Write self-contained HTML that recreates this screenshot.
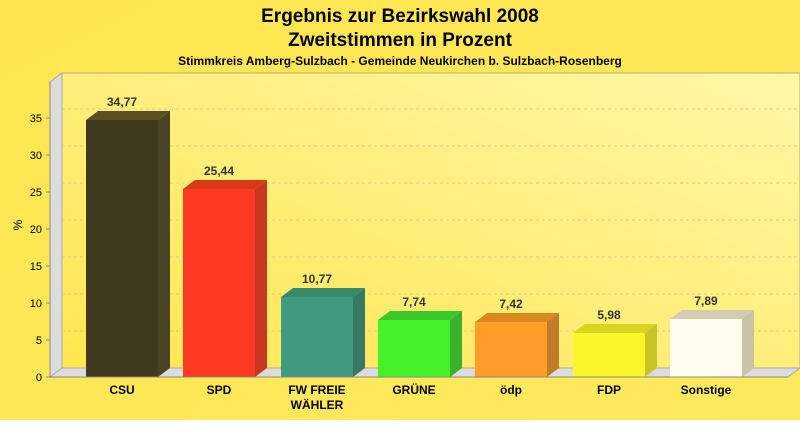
<!DOCTYPE html><html><head><style>body{margin:0}svg{font-family:"Liberation Sans",sans-serif}</style></head><body>
<svg width="800" height="420" xmlns="http://www.w3.org/2000/svg">
<defs><linearGradient id="bg" x1="0" y1="0" x2="1" y2="1"><stop offset="0" stop-color="#ffe650"/><stop offset="1" stop-color="#ffe95e"/></linearGradient>
<linearGradient id="pl" x1="0" y1="1" x2="1" y2="0"><stop offset="0" stop-color="#ffe650"/><stop offset="1" stop-color="#fff7a8"/></linearGradient></defs>
<rect width="800" height="420" fill="url(#bg)"/>
<text x="400" y="22" font-size="19" font-weight="bold" text-anchor="middle">Ergebnis zur Bezirkswahl 2008</text>
<text x="400" y="46" font-size="19" font-weight="bold" text-anchor="middle">Zweitstimmen in Prozent</text>
<text x="400" y="65" font-size="12" font-weight="bold" text-anchor="middle">Stimmkreis Amberg-Sulzbach - Gemeinde Neukirchen b. Sulzbach-Rosenberg</text>
<rect x="62" y="73" width="738" height="295" fill="url(#pl)" stroke="#b8b070" stroke-width="1"/>
<polygon points="50,82 62,73 62,368 50,377" fill="#dcdcdc" stroke="#aaa"/>
<polygon points="50,377 62,368 800,368 788,377" fill="#dcdcdc" stroke="#aaa"/>
<g stroke="#d8cc88" stroke-dasharray="3,3">
<line x1="62" y1="331" x2="800" y2="331"/><line x1="62" y1="294" x2="800" y2="294"/><line x1="62" y1="257" x2="800" y2="257"/><line x1="62" y1="220" x2="800" y2="220"/><line x1="62" y1="183" x2="800" y2="183"/><line x1="62" y1="146" x2="800" y2="146"/><line x1="62" y1="109" x2="800" y2="109"/></g>
<line x1="50" y1="82" x2="50" y2="377" stroke="#888"/>
<g font-size="11" text-anchor="end">
<text x="42" y="381">0</text><text x="42" y="344">5</text><text x="42" y="307">10</text><text x="42" y="270">15</text><text x="42" y="233">20</text><text x="42" y="196">25</text><text x="42" y="159">30</text><text x="42" y="122">35</text></g>
<g stroke="#888"><line x1="46" y1="377" x2="50" y2="377"/><line x1="46" y1="340" x2="50" y2="340"/><line x1="46" y1="303" x2="50" y2="303"/><line x1="46" y1="266" x2="50" y2="266"/><line x1="46" y1="229" x2="50" y2="229"/><line x1="46" y1="192" x2="50" y2="192"/><line x1="46" y1="155" x2="50" y2="155"/><line x1="46" y1="118" x2="50" y2="118"/></g>
<text x="22" y="225" font-size="12" transform="rotate(-90 22 225)" text-anchor="middle">%</text>
<g id="bars" font-size="12" font-weight="bold" fill="#333">
<!-- x, top -->
<g><polygon points="86,120 98,111 170,111 158,120" fill="#5a5020"/><polygon points="158,120 170,111 170,368 158,377" fill="#4a4426"/><rect x="86" y="120" width="72" height="257" fill="#403a1e"/><text x="122" y="106" text-anchor="middle" fill="#333">34,77</text></g>
<g><polygon points="183,189 195,180 267,180 255,189" fill="#d83a18"/><polygon points="255,189 267,180 267,368 255,377" fill="#c83820"/><rect x="183" y="189" width="72" height="188" fill="#ff3a22"/><text x="219" y="175" text-anchor="middle">25,44</text></g>
<g><polygon points="281,297 293,288 365,288 353,297" fill="#3a8a6a"/><polygon points="353,297 365,288 365,368 353,377" fill="#367a66"/><rect x="281" y="297" width="72" height="80" fill="#3f9a80"/><text x="317" y="283" text-anchor="middle">10,77</text></g>
<g><polygon points="378,320 390,311 462,311 450,320" fill="#3cc82a"/><polygon points="450,320 462,311 462,368 450,377" fill="#3cb02a"/><rect x="378" y="320" width="72" height="57" fill="#44f22a"/><text x="414" y="306" text-anchor="middle">7,74</text></g>
<g><polygon points="475,322 487,313 559,313 547,322" fill="#d88a20"/><polygon points="547,322 559,313 559,368 547,377" fill="#c07c28"/><rect x="475" y="322" width="72" height="55" fill="#ff9d2a"/><text x="511" y="308" text-anchor="middle">7,42</text></g>
<g><polygon points="573,333 585,324 657,324 645,333" fill="#d8d420"/><polygon points="645,333 657,324 657,368 645,377" fill="#c8c428"/><rect x="573" y="333" width="72" height="44" fill="#fbf62a"/><text x="609" y="319" text-anchor="middle">5,98</text></g>
<g><polygon points="670,319 682,310 754,310 742,319" fill="#d4ccb0"/><polygon points="742,319 754,310 754,368 742,377" fill="#c8c2a8"/><rect x="670" y="319" width="72" height="58" fill="#fffdf0"/><text x="706" y="305" text-anchor="middle">7,89</text></g>
</g>
<line x1="50" y1="377" x2="788" y2="377" stroke="#888"/>
<g font-size="12" font-weight="bold" text-anchor="middle">
<text x="122" y="394">CSU</text><text x="219" y="394">SPD</text><text x="317" y="394">FW FREIE</text><text x="317" y="409">WÄHLER</text><text x="414" y="394">GRÜNE</text><text x="511" y="394">ödp</text><text x="609" y="394">FDP</text><text x="706" y="394">Sonstige</text></g>
</svg></body></html>
